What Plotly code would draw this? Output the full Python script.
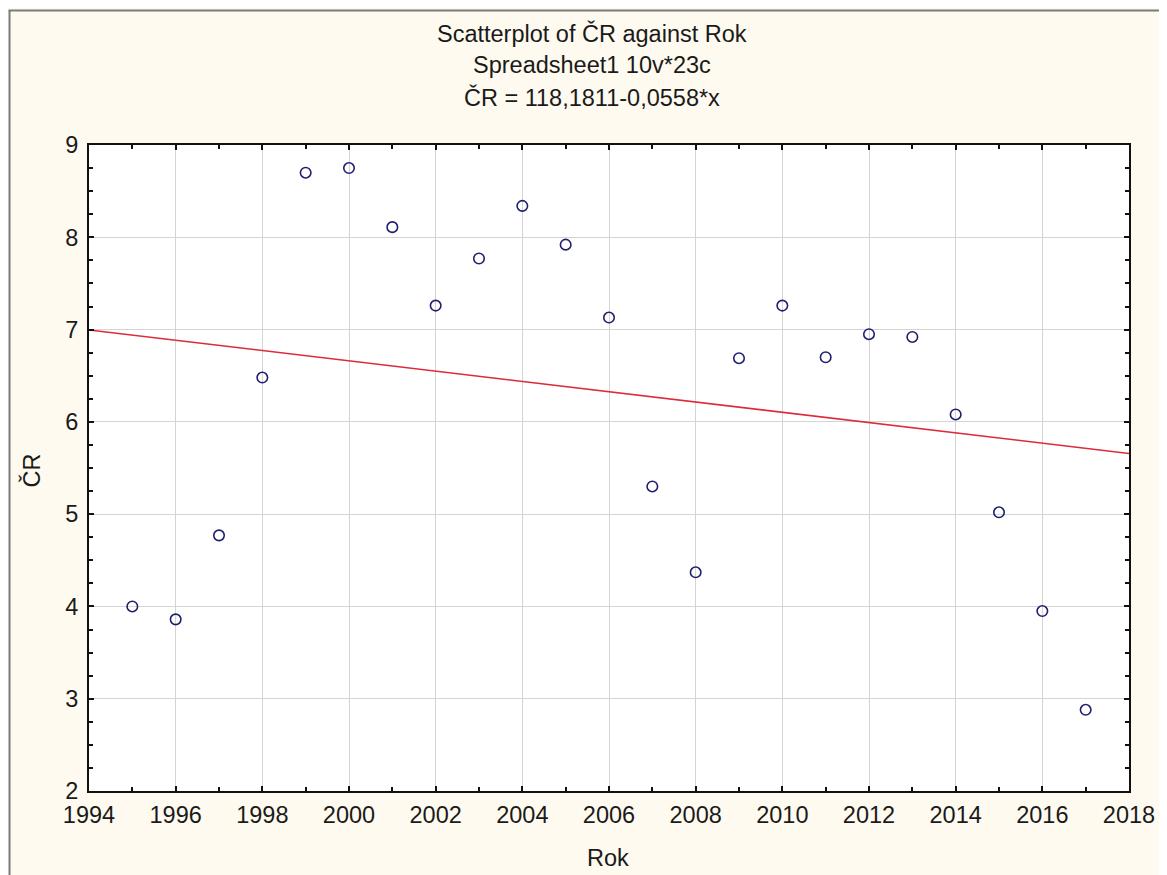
import plotly.graph_objects as go

years = list(range(1995, 2018))
cr_values = [4.00, 3.86, 4.77, 6.48, 8.70, 8.75, 8.11, 7.26, 7.77, 8.34, 7.92, 7.13,
             5.30, 4.37, 6.69, 7.26, 6.70, 6.95, 6.92, 6.08, 5.02, 3.95, 2.88]
fit_intercept = 118.1811
fit_slope = -0.05576
x_range = [1994, 2018]
y_range = [2, 9]
title_lines = ["Scatterplot of ČR against Rok", "Spreadsheet1 10v*23c", "ČR = 118,1811-0,0558*x"]

# page has an 8px body margin; figure coordinates = page coordinates - 8
OFF = 8
W, H = 1167 - OFF, 875 - OFF
L, R, T, B = 89 - OFF, 31, 145 - OFF, 84
pw, ph = W - L - R, H - T - B

def px(xp):
    return (xp - OFF - L) / pw

def py(yp):
    return (H - B - (yp - OFF)) / ph

font = "Arial, Liberation Sans, sans-serif"
fs = 23.5

fig = go.Figure()
fit_x = x_range
fit_y = [fit_intercept + fit_slope * v for v in fit_x]
fig.add_trace(go.Scatter(x=fit_x, y=fit_y, mode="lines",
                         line=dict(color="#dd2a3c", width=1.6), hoverinfo="skip",
                         showlegend=False))
fig.add_trace(go.Scatter(x=years, y=cr_values, mode="markers",
                         marker=dict(symbol="circle-open", size=10.5, color="#1f1f6e",
                                     line=dict(width=1.6, color="#1f1f6e")),
                         showlegend=False))

axis_common = dict(showline=True, linecolor="#111111", linewidth=2, mirror="ticks",
                   ticks="inside", ticklen=5, tickwidth=1.5, tickcolor="#111111",
                   showgrid=True, gridcolor="#d4d4d4", gridwidth=1, zeroline=False,
                   tickfont=dict(family=font, size=fs, color="#1a1a1a"))

fig.update_xaxes(range=x_range, tickmode="linear", tick0=1994, dtick=2,
                 minor=dict(dtick=1, ticks="inside", ticklen=4, tickcolor="#111111", showgrid=False),
                 ticklabelstandoff=2, **axis_common)
fig.update_yaxes(range=y_range, tickmode="linear", tick0=2, dtick=1,
                 minor=dict(dtick=0.25, ticks="inside", ticklen=4, tickcolor="#111111", showgrid=False),
                 ticklabelstandoff=4, **axis_common)

annotations = []
for yc, txt in zip([33, 65, 97], title_lines):
    annotations.append(dict(x=px(595), y=py(yc), xref="paper", yref="paper", text=txt,
                            showarrow=False, xanchor="center", yanchor="middle",
                            font=dict(family=font, size=fs, color="#1a1a1a")))
annotations.append(dict(x=px(611), y=py(858), xref="paper", yref="paper", text="Rok",
                        showarrow=False, xanchor="center", yanchor="middle",
                        font=dict(family=font, size=fs, color="#1a1a1a")))
annotations.append(dict(x=px(31), y=py(470), xref="paper", yref="paper", text="ČR",
                        showarrow=False, xanchor="center", yanchor="middle", textangle=-90,
                        font=dict(family=font, size=fs, color="#1a1a1a")))

shapes = [
    dict(type="line", xref="paper", yref="paper", x0=px(8), x1=px(1175), y0=py(10.5), y1=py(10.5),
         line=dict(color="#7b7b7b", width=2)),
    dict(type="line", xref="paper", yref="paper", x0=px(9), x1=px(9), y0=py(10.5), y1=py(885),
         line=dict(color="#7b7b7b", width=2)),
]

fig.update_layout(width=W, height=H, margin=dict(l=L, r=R, t=T, b=B),
                  paper_bgcolor="#fefaef", plot_bgcolor="#ffffff",
                  annotations=annotations, shapes=shapes, showlegend=False)

fig.write_html("out.html")
